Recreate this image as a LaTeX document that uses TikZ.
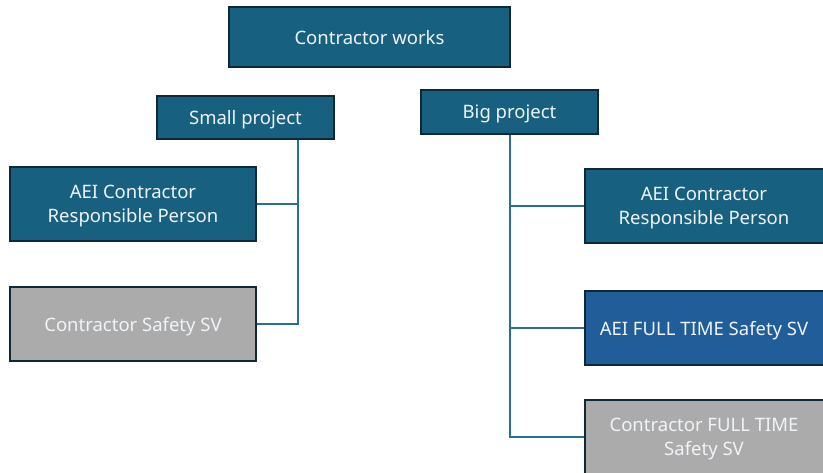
\documentclass[tikz,border=0pt]{standalone}
\usepackage{fontspec}
\setmainfont{Noto Sans}
\definecolor{teal1}{RGB}{23,96,128}
\definecolor{blue1}{RGB}{33,94,153}
\definecolor{gray1}{RGB}{171,171,171}
\definecolor{edge1}{RGB}{14,40,56}
\definecolor{line1}{RGB}{40,110,150}
\definecolor{txt1}{RGB}{240,244,248}
\begin{document}
\begin{tikzpicture}[x=1pt,y=-1pt,
  box/.style={draw=edge1, line width=2pt, fill=teal1, text=txt1, align=center,
    font=\fontsize{18.5}{24}\selectfont, inner sep=0pt, text depth=0pt},
  graybox/.style={box, fill=gray1},
  bluebox/.style={box, fill=blue1},
  conn/.style={draw=line1, line width=2pt}]
\useasboundingbox (0,0) rectangle (823,472);
\node[box, minimum width=281pt, minimum height=60pt] (cw) at (369.5,37) {Contractor works};
\node[box, minimum width=177pt, minimum height=43pt] (small) at (245.5,117.5) {Small project};
\node[box, minimum width=177pt, minimum height=44pt] (big) at (509.5,111.5) {Big project};
\node[box, minimum width=246pt, minimum height=74pt] (aeiL) at (133,204) {AEI Contractor\\Responsible Person};
\node[graybox, minimum width=246pt, minimum height=74pt] (csL) at (133,324) {Contractor Safety SV};
\node[box, minimum width=244pt, minimum height=74pt] (aeiR) at (707,206) {\hspace*{-6pt}AEI Contractor\\\hspace*{-6pt}Responsible Person};
\node[bluebox, minimum width=244pt, minimum height=74pt] (fullR) at (707,328) {\hspace*{-6pt}AEI FULL TIME Safety SV};
\node[graybox, minimum width=244pt, minimum height=74pt] (cfR) at (707,437) {\hspace*{-6pt}Contractor FULL TIME\\\hspace*{-6pt}Safety SV};
\coordinate (lbus) at (298,0);
\draw[conn] (small.south -| lbus) -- (csL.east -| lbus) -- (csL.east);
\draw[conn] (aeiL.east) -- (aeiL.east -| lbus);
\draw[conn] (big.south) |- (cfR.west);
\draw[conn] (aeiR.west -| big.south) -- (aeiR.west);
\draw[conn] (fullR.west -| big.south) -- (fullR.west);
\end{tikzpicture}
\end{document}
